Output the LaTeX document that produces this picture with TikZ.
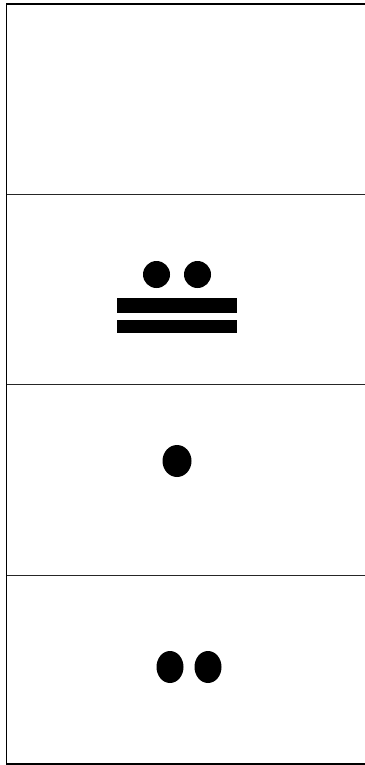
\documentclass[tikz,border=0pt]{standalone}
\begin{document}
\begin{tikzpicture}[x=1pt,y=-1pt,
  frame/.style={line width=1.6pt,black},
  divider/.style={line width=0.9pt,black!85},
  mdot/.style={fill=black},
  mbar/.style={fill=black}]
\useasboundingbox (0,0) rectangle (364,765);
\draw[frame] (366,4) -- (6.5,4) -- (6.5,764) -- (366,764);
\draw[divider] (6.5,194) -- (366,194);
\draw[divider] (6.5,384) -- (366,384);
\draw[divider] (6.5,575) -- (366,575);
% section 2: two dots over two bars
\fill[mdot] (156.5,274.5) ellipse [x radius=13.5, y radius=13.5];
\fill[mdot] (197.5,274.5) ellipse [x radius=13.5, y radius=13.5];
\fill[mbar] (117,298) rectangle (237,313);
\fill[mbar] (117,320) rectangle (237,333);
% section 3: one dot
\fill[mdot] (177,461) ellipse [x radius=14.5, y radius=16];
% section 4: two dots
\fill[mdot] (170,667) ellipse [x radius=13.5, y radius=16];
\fill[mdot] (208,667) ellipse [x radius=13.5, y radius=16];
\end{tikzpicture}
\end{document}
